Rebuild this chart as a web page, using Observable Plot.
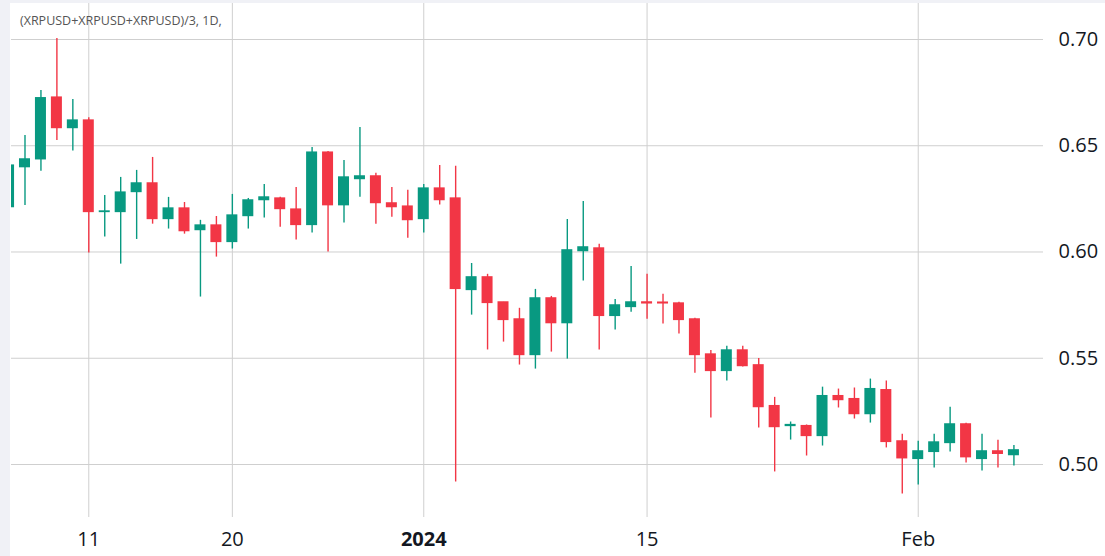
<!DOCTYPE html>
<html>
<head>
<meta charset="utf-8">
<script src="https://cdn.jsdelivr.net/npm/d3@7"></script>
<script src="https://cdn.jsdelivr.net/npm/@observablehq/plot@0.6"></script>
<style>
html, body { margin: 0; padding: 0; background: #fff; }
#wrap { position: relative; width: 1105px; height: 556px; overflow: hidden; font-family: "Open Sans", sans-serif; }
#wrap svg { position: absolute; left: 0; top: 0; }
.band { position: absolute; background: #f0f1f6; z-index: 2; }
#legend { position: absolute; left: 20px; top: 12px; font-size: 12.5px; color: #555; z-index: 3; white-space: nowrap; }
</style>
</head>
<body>
<div id="wrap">
  <div class="band" style="left:0;top:0;width:10px;height:556px"></div>
  <div class="band" style="left:0;top:0;width:1105px;height:3px"></div>
  <div id="legend">(XRPUSD+XRPUSD+XRPUSD)/3, 1D,</div>
</div>
<script>
const title = "(XRPUSD+XRPUSD+XRPUSD)/3, 1D,";

const dates = [
  "2023-12-06","2023-12-07","2023-12-08","2023-12-09","2023-12-10","2023-12-11","2023-12-12","2023-12-13",
  "2023-12-14","2023-12-15","2023-12-16","2023-12-17","2023-12-18","2023-12-19","2023-12-20","2023-12-21",
  "2023-12-22","2023-12-23","2023-12-24","2023-12-25","2023-12-26","2023-12-27","2023-12-28","2023-12-29",
  "2023-12-30","2023-12-31","2024-01-01","2024-01-02","2024-01-03","2024-01-04","2024-01-05","2024-01-06",
  "2024-01-07","2024-01-08","2024-01-09","2024-01-10","2024-01-11","2024-01-12","2024-01-13","2024-01-14",
  "2024-01-15","2024-01-16","2024-01-17","2024-01-18","2024-01-19","2024-01-20","2024-01-21","2024-01-22",
  "2024-01-23","2024-01-24","2024-01-25","2024-01-26","2024-01-27","2024-01-28","2024-01-29","2024-01-30",
  "2024-01-31","2024-02-01","2024-02-02","2024-02-03","2024-02-04","2024-02-05","2024-02-06","2024-02-07"
];
const open = [
  0.6211,0.6399,0.6436,0.6727,0.6583,0.6619,0.6188,0.6188,
  0.6282,0.6323,0.6155,0.6205,0.6103,0.6125,0.6047,0.6169,
  0.6244,0.6252,0.6200,0.6127,0.6468,0.6220,0.6343,0.6356,
  0.6229,0.6214,0.6155,0.6299,0.6252,0.5821,0.5881,0.5763,
  0.5683,0.5515,0.5782,0.5665,0.6004,0.6017,0.5699,0.5741,
  0.5763,0.5762,0.5758,0.5683,0.5518,0.5440,0.5537,0.5467,
  0.5275,0.5181,0.5181,0.5134,0.5322,0.5308,0.5237,0.5350,
  0.5109,0.5026,0.5059,0.5101,0.5189,0.5026,0.5062,0.5044
];
const high = [
  0.6450,0.6548,0.6760,0.7005,0.6718,0.6632,0.6266,0.6351,
  0.6384,0.6445,0.6257,0.6233,0.6149,0.6167,0.6271,0.6252,
  0.6318,0.6258,0.6304,0.6492,0.6473,0.6431,0.6586,0.6370,
  0.6304,0.6290,0.6318,0.6407,0.6403,0.5946,0.5895,0.5763,
  0.5735,0.5824,0.5791,0.6153,0.6238,0.6036,0.5777,0.5932,
  0.5895,0.5801,0.5763,0.5688,0.5537,0.5556,0.5556,0.5499,
  0.5316,0.5200,0.5186,0.5364,0.5355,0.5360,0.5402,0.5393,
  0.5142,0.5109,0.5142,0.5269,0.5194,0.5142,0.5114,0.5090
];
const low = [
  0.6180,0.6219,0.6380,0.6525,0.6475,0.5995,0.6070,0.5943,
  0.6059,0.6131,0.6108,0.6084,0.5788,0.5976,0.6014,0.6108,
  0.6160,0.6117,0.6056,0.6089,0.6000,0.6136,0.6258,0.6131,
  0.6164,0.6065,0.6089,0.6221,0.4918,0.5703,0.5539,0.5576,
  0.5468,0.5449,0.5529,0.5496,0.5863,0.5539,0.5633,0.5717,
  0.5684,0.5661,0.5614,0.5430,0.5219,0.5393,0.5459,0.5172,
  0.4965,0.5115,0.5040,0.5087,0.5266,0.5214,0.5195,0.5078,
  0.4861,0.4904,0.4984,0.5059,0.5007,0.4969,0.4984,0.4993
];
const close = [
  0.6407,0.6436,0.6724,0.6583,0.6619,0.6188,0.6191,0.6280,
  0.6323,0.6155,0.6205,0.6098,0.6125,0.6047,0.6172,0.6243,
  0.6257,0.6202,0.6127,0.6468,0.6220,0.6351,0.6356,0.6230,
  0.6211,0.6150,0.6299,0.6244,0.5826,0.5881,0.5760,0.5680,
  0.5515,0.5782,0.5665,0.6008,0.6022,0.5699,0.5749,0.5763,
  0.5758,0.5758,0.5680,0.5515,0.5440,0.5537,0.5463,0.5270,
  0.5176,0.5186,0.5134,0.5322,0.5303,0.5237,0.5355,0.5106,
  0.5029,0.5062,0.5104,0.5189,0.5034,0.5062,0.5050,0.5067
];

const yTicks = [0.50, 0.55, 0.60, 0.65, 0.70];
const xTickDates = ["2023-12-11", "2023-12-20", "2024-01-01", "2024-01-15", "2024-02-01"];
const xTickLabels = ["11", "20", "2024", "15", "Feb"];

const UP = "#089981", DOWN = "#f23645", GRID = "#cfcfcf", TEXT = "#131722";
const DAY = 864e5;

const rows = dates.map((d, i) => ({
  date: new Date(d + "T00:00:00Z"),
  open: open[i], high: high[i], low: low[i], close: close[i]
}));
const color = d => d.close >= d.open ? UP : DOWN;

const tickDates = xTickDates.map(d => new Date(d + "T00:00:00Z"));
const labelOf = d => xTickLabels[tickDates.findIndex(t => +t === +d)];
const isYear = d => /^\d{4}$/.test(labelOf(d));

const chart = Plot.plot({
  width: 1105,
  height: 556,
  marginTop: 3,
  marginLeft: 11,
  marginRight: 62,
  marginBottom: 39,
  style: { fontFamily: "Open Sans, sans-serif", fontSize: "20px", color: TEXT, background: "transparent", overflow: "visible" },
  x: { type: "utc", domain: [new Date(Date.UTC(2023, 11, 6) + 0.154 * DAY), new Date(Date.UTC(2024, 1, 8) + 0.854 * DAY)], axis: null },
  y: { type: "linear", domain: [0.47506, 0.71694], axis: null },
  marks: [
    Plot.gridY(yTicks, { stroke: GRID, strokeOpacity: 1, strokeWidth: 1 }),
    Plot.gridX(tickDates, { stroke: GRID, strokeOpacity: 1, strokeWidth: 1 }),
    Plot.ruleX(rows, { x: "date", y1: "low", y2: "high", stroke: color, strokeWidth: 1.4, clip: true }),
    Plot.rect(rows, {
      x1: d => new Date(+d.date - 0.345 * DAY),
      x2: d => new Date(+d.date + 0.345 * DAY),
      y1: "open", y2: "close", fill: color,
      insetTop: -0.6, insetBottom: -0.6, clip: true
    }),
    Plot.axisY(yTicks, { anchor: "right", tickSize: 0, tickPadding: 15, tickFormat: d => d.toFixed(2), label: null, fontSize: 20, fill: TEXT }),
    Plot.axisX(tickDates.filter(d => !isYear(d)), { anchor: "bottom", tickSize: 0, tickPadding: 14, tickFormat: labelOf, label: null, fontSize: 20, fill: TEXT }),
    Plot.axisX(tickDates.filter(d => isYear(d)), { anchor: "bottom", tickSize: 0, tickPadding: 14, tickFormat: labelOf, label: null, fontSize: 20, fontWeight: "bold", fill: TEXT })
  ]
});
document.getElementById("wrap").appendChild(chart);
</script>
</body>
</html>
